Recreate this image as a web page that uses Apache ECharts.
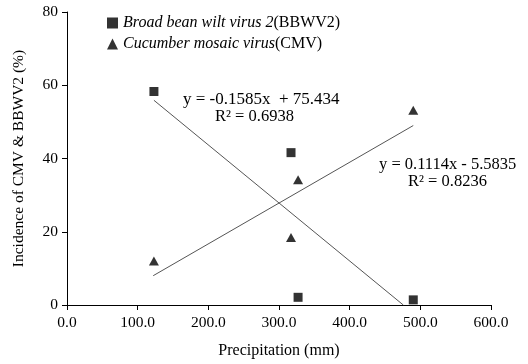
<!DOCTYPE html>
<html>
<head>
<meta charset="utf-8">
<script src="https://cdn.jsdelivr.net/npm/echarts@6/dist/echarts.min.js"></script>
<style>html,body{margin:0;padding:0;background:#fff}#c{width:528px;height:364px}</style>
</head>
<body>
<div id="c"></div>
<script>
// Data
const precipitation = [123, 317, 327, 490];
const bbwv2Incidence = [58.3, 41.6, 2.1, 1.4];
const cmvIncidence = [12.0, 18.4, 34.2, 53.2];
// Trendline endpoints (from the shown regression equations)
const bbwv2TrendX = [123, 475.9];
const bbwv2TrendY = [55.9, 0];
const cmvTrendX = [122, 490];
const cmvTrendY = [8.0, 49.0];
const xTicks = [0, 100, 200, 300, 400, 500, 600];
const yTicks = [0, 20, 40, 60, 80];
const seriesNames = ['Broad bean wilt virus 2(BBWV2)', 'Cucumber mosaic virus(CMV)'];
const equationTexts = ['y = -0.1585x  + 75.434', 'R\u00B2 = 0.6938', 'y = 0.1114x - 5.5835', 'R\u00B2 = 0.8236'];

const FONT = '"Liberation Serif", "Times New Roman", serif';
const pts = (xs, ys) => xs.map((x, i) => [x, ys[i]]);

const chart = echarts.init(document.getElementById('c'), null, {renderer: 'canvas'});
chart.setOption({
  animation: false,
  backgroundColor: '#fff',
  textStyle: {fontFamily: FONT, color: '#000'},
  grid: {left: 67, right: 37, top: 12, bottom: 57},
  xAxis: {
    type: 'value', min: xTicks[0], max: xTicks[xTicks.length - 1], interval: 100,
    name: 'Precipitation (mm)', nameLocation: 'middle', nameGap: 38,
    nameTextStyle: {fontFamily: FONT, fontSize: 16, color: '#000'},
    axisLine: {show: true, onZero: false, lineStyle: {color: '#000', width: 1}},
    axisTick: {show: true, inside: false, length: 5, lineStyle: {color: '#000'}},
    axisLabel: {fontFamily: FONT, fontSize: 15.5, color: '#000', margin: 10, formatter: v => v.toFixed(1)},
    splitLine: {show: false}
  },
  yAxis: {
    type: 'value', min: yTicks[0], max: yTicks[yTicks.length - 1], interval: 20,
    name: 'Incidence of CMV & BBWV2 (%)', nameLocation: 'middle', nameGap: 40,
    nameTextStyle: {fontFamily: FONT, fontSize: 15.5, color: '#000'},
    axisLine: {show: true, lineStyle: {color: '#000', width: 1}},
    axisTick: {show: true, inside: false, length: 5, lineStyle: {color: '#000'}},
    axisLabel: {fontFamily: FONT, fontSize: 15.5, color: '#000', margin: 9},
    splitLine: {show: false}
  },
  legend: {
    left: 102, top: 10, orient: 'vertical', itemGap: 5,
    itemWidth: 11, itemHeight: 11,
    data: [
      {name: seriesNames[0], icon: 'rect'},
      {name: seriesNames[1], icon: 'triangle'}
    ],
    formatter: name => {
      const i = name.indexOf('(');
      return '{i|' + name.slice(0, i) + '}{n|' + name.slice(i) + '}';
    },
    textStyle: {
      fontFamily: FONT, fontSize: 16, color: '#000',
      rich: {
        i: {fontFamily: FONT, fontSize: 16, fontStyle: 'italic', color: '#000'},
        n: {fontFamily: FONT, fontSize: 16, color: '#000'}
      }
    }
  },
  series: [
    {
      name: seriesNames[0], type: 'scatter', symbol: 'rect', symbolSize: 9,
      itemStyle: {color: '#000'}, data: pts(precipitation, bbwv2Incidence), z: 5
    },
    {
      name: seriesNames[1], type: 'scatter', symbol: 'triangle', symbolSize: [10, 9],
      itemStyle: {color: '#000'}, data: pts(precipitation, cmvIncidence), z: 5
    },
    {
      name: 'bbwv2Trend', type: 'line', symbol: 'none', silent: true,
      lineStyle: {color: '#555', width: 1}, data: pts(bbwv2TrendX, bbwv2TrendY)
    },
    {
      name: 'cmvTrend', type: 'line', symbol: 'none', silent: true,
      lineStyle: {color: '#555', width: 1}, data: pts(cmvTrendX, cmvTrendY)
    }
  ],
  graphic: [
    {type: 'text', left: 183, top: 91, style: {text: equationTexts[0], font: '17px ' + FONT, fill: '#000'}},
    {type: 'text', left: 215, top: 108, style: {text: equationTexts[1], font: '16.5px ' + FONT, fill: '#000'}},
    {type: 'text', left: 379, top: 156, style: {text: equationTexts[2], font: '16.5px ' + FONT, fill: '#000'}},
    {type: 'text', left: 408, top: 173, style: {text: equationTexts[3], font: '16.5px ' + FONT, fill: '#000'}}
  ]
});
</script>
</body>
</html>
